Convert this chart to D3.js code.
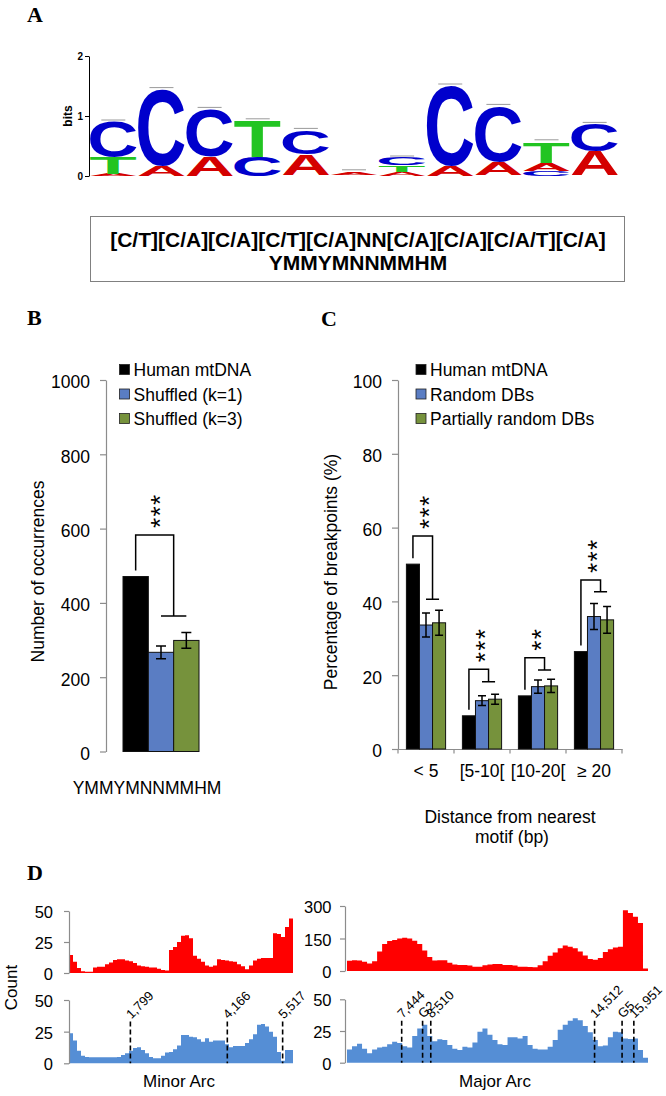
<!DOCTYPE html>
<html>
<head>
<meta charset="utf-8">
<script src="https://cdn.jsdelivr.net/npm/d3@7"></script>
<style>
body { margin: 0; background: #fff; }
svg { display: block; }
</style>
</head>
<body>
<svg id="fig" width="666" height="1096" font-family="Liberation Sans, Arial, sans-serif"></svg>
<script>
// ---------- data ----------
// A: sequence logo, bits per base in each column (bottom to top)
var logoCols = [
  [["A", 0.03], ["T", 0.28], ["C", 0.59]],
  [["A", 0.17], ["C", 1.27]],
  [["A", 0.33], ["C", 0.78]],
  [["C", 0.32], ["T", 0.60]],
  [["T", 0.02], ["A", 0.34], ["C", 0.40]],
  [["C", 0.02], ["A", 0.05]],
  [["A", 0.07], ["T", 0.11], ["C", 0.12]],
  [["A", 0.16], ["C", 1.34]],
  [["T", 0.02], ["A", 0.22], ["C", 0.92]],
  [["C", 0.09], ["A", 0.13], ["T", 0.35]],
  [["T", 0.01], ["A", 0.40], ["C", 0.45]]
];
var logoTicks = [0, 1, 2];
var baseColors = {A: "#d40000", C: "#0000cc", T: "#22c422", G: "#ffb300"};
var motifLines = ["[C/T][C/A][C/A][C/T][C/A]NN[C/A][C/A][C/A/T][C/A]", "YMMYMNNMMHM"];

// B: motif occurrences
var motifName = "YMMYMNNMMHM";
var seriesB = ["Human mtDNA", "Shuffled (k=1)", "Shuffled (k=3)"];
var occurrences = [471, 267, 299];
var occurrencesErr = [0, 17, 21];
var ticksB = [0, 200, 400, 600, 800, 1000];
var sigB = ["***"], sigTopB = [583], sigLowB = [365];

// C: distance of breakpoints from nearest motif
var distCats = ["< 5", "[5-10[", "[10-20[", "\u2265 20"];
var seriesC = ["Human mtDNA", "Random DBs", "Partially random DBs"];
var pctHuman = [50.1, 9.0, 14.4, 26.4];
var pctRandom = [33.6, 13.1, 16.9, 35.9];
var pctPartial = [34.2, 13.5, 17.1, 35.0];
var errRandom = [3.25, 1.3, 1.8, 3.5];
var errPartial = [3.4, 1.35, 1.8, 3.6];
var ticksC = [0, 20, 40, 60, 80, 100];
var sigC = ["***", "***", "**", "***"];
var sigTopC = [57.7, 21.6, 24.7, 45.8];
var sigLowC = [40.6, 18.2, 21.4, 42.6];

// D: counts along the minor and major arcs (equal bins)
var minorDomain = [300, 5770];
var majorDomain = [5440, 16470];
var minorRed = [14.5, 9, 4, 1.5, 1, 1, 4.5, 5, 5, 7, 8.5, 10.5, 11, 11, 10, 9.5, 8, 6, 5.5, 5,
  4.5, 4.5, 3.5, 2.5, 2, 18.5, 21, 25, 30, 30.5, 28, 14, 11.5, 9, 6, 5, 6, 11, 10.5, 10,
  9.5, 9, 7, 5.5, 3, 6, 10, 11.5, 12, 12, 12, 32, 31.5, 29, 37, 44];
var minorBlue = [23.7, 18, 10, 6, 5, 4.7, 4.7, 4.7, 4.7, 4.7, 4.7, 4.7, 5, 6.5, 8, 10, 12, 12.6, 10.5, 8,
  5, 4, 4, 6, 8.5, 9, 11, 14, 22.4, 22.4, 21, 20.5, 19, 17, 19.7, 17, 18, 18, 18, 15,
  12.6, 13.7, 13.7, 13.7, 16, 19, 23, 30.5, 31, 29, 25, 21, 9, 2, 10.5, 10.5];
var majorRed = [47.7, 50, 48, 43, 35, 45, 90, 125, 138, 143, 150, 153, 150, 140, 125, 95, 65, 48, 50, 50,
  38, 30, 28, 28, 25, 20, 20, 26, 30, 32, 32, 28, 28, 25, 20, 20, 18, 17, 26, 45,
  70, 85, 105, 118, 112, 105, 90, 72, 55, 52, 60, 88, 100, 108, 112, 280, 268, 250, 222, 12];
var majorBlue = [10.5, 13, 15, 11, 7.4, 10.5, 12, 12.6, 14.5, 16.6, 15.5, 13, 12, 21, 27, 30, 21, 17, 18.4, 18,
  14, 11, 10, 12.6, 12, 16, 24.5, 27, 22, 18, 14.5, 14, 20, 20, 19, 21, 14, 11, 10.5, 10.5,
  12.6, 18, 26, 30, 33, 35, 33.5, 29, 24, 18, 13, 13.5, 20, 24.5, 24, 19, 18.6, 19, 10, 4];
var minorMarkPos = [1799, 4166, 5517];
var minorMarkLabels = ["1,799", "4,166", "5,517"];
var majorMarkPos = [7444, 8210, 8510, 14512, 15520, 15951];
var majorMarkLabels = ["7,444", "G2", "8,510", "14,512", "G5", "15,951"];
var ticksSmall = [0, 25, 50];
var ticksBig = [0, 150, 300];

// ---------- setup ----------
var svg = d3.select("#fig");
var barColors = ["#000000", "#5a7dc3", "#76923c"];
var axisGrey = "#8c8c8c";
var font = "Liberation Sans, Arial, sans-serif";

function panelLetter(t, x, y) {
  svg.append("text").attr("x", x).attr("y", y)
    .attr("font-family", "Liberation Serif, Times New Roman, serif")
    .attr("font-weight", "bold").attr("font-size", 22).text(t);
}

function styleAxis(g, size) {
  g.attr("font-size", size).attr("font-family", font);
  g.select(".domain").attr("stroke", axisGrey).attr("stroke-width", 1.2);
  g.selectAll(".tick line").attr("stroke", axisGrey).attr("stroke-width", 1.2);
  g.selectAll(".tick text").attr("fill", "#000");
}

panelLetter("A", 27, 22);
panelLetter("B", 27, 325);
panelLetter("C", 321, 326);
panelLetter("D", 27, 880);

// ---------- A: logo ----------
var logoX = d3.scaleBand().domain(d3.range(logoCols.length)).range([90, 618]).paddingInner(0.03);
var logoY = d3.scaleLinear().domain([0, 2]).range([176, 56]);

var ctx = document.createElement("canvas").getContext("2d");
ctx.font = "bold 100px 'Liberation Sans'";
function ink(ch) {
  var m = ctx.measureText(ch);
  return {l: m.actualBoundingBoxLeft, r: m.actualBoundingBoxRight, a: m.actualBoundingBoxAscent, d: m.actualBoundingBoxDescent};
}

var logo = svg.append("g");
logoCols.forEach(function(col, i) {
  var x0 = logoX(i), w = logoX.bandwidth(), acc = 0;
  col.forEach(function(b) {
    var top = logoY(acc + b[1]), h = logoY(acc) - top;
    acc += b[1];
    if (h < 1.5) return;
    var m = ink(b[0]);
    var sx = w / (m.l + m.r), sy = h / (m.a + m.d);
    logo.append("text")
      .attr("transform", "translate(" + (x0 + m.l * sx) + "," + (top + m.a * sy) + ") scale(" + sx + "," + sy + ")")
      .attr("font-size", 100).attr("font-weight", "bold")
      .attr("font-family", "Liberation Sans")
      .attr("fill", baseColors[b[0]]).text(b[0]);
  });
  logo.append("line")
    .attr("x1", x0 + w / 2 - 12).attr("x2", x0 + w / 2 + 12)
    .attr("y1", logoY(acc) - 2).attr("y2", logoY(acc) - 2)
    .attr("stroke", "#9a9a9a").attr("stroke-width", 1);
});

var logoAxis = svg.append("g").attr("transform", "translate(89,0)")
  .call(d3.axisLeft(logoY).tickValues(logoTicks).tickSize(4).tickSizeOuter(0).tickPadding(2).tickFormat(d3.format("d")));
logoAxis.attr("font-size", 10).attr("font-weight", "bold").attr("font-family", font);
logoAxis.selectAll("path,line").attr("stroke", "#000");

svg.append("text").attr("transform", "translate(71.5,116) rotate(-90)")
  .attr("text-anchor", "middle").attr("font-size", 12).attr("font-weight", "bold").text("bits");

// motif box
svg.append("rect").attr("x", 90.5).attr("y", 216.5).attr("width", 534).attr("height", 65)
  .attr("fill", "none").attr("stroke", "#808080");
svg.selectAll(".motif").data(motifLines).enter().append("text")
  .attr("x", 358).attr("y", (d, i) => 247 + i * 23)
  .attr("text-anchor", "middle").attr("font-size", 21).attr("font-weight", "bold").text(d => d);

// ---------- helpers for B / C ----------
function legend(names, x, y) {
  var g = svg.append("g");
  names.forEach(function(n, i) {
    g.append("rect").attr("x", x).attr("y", y + i * 24.5 - 5).attr("width", 10).attr("height", 10)
      .attr("fill", barColors[i]).attr("stroke", "#222").attr("stroke-width", 0.8);
    g.append("text").attr("x", x + 14).attr("y", y + i * 24.5 + 6.5)
      .attr("font-size", 17.5).text(n);
  });
}

function bracket(xl, xr, xt0, xt1, yLeg, yTop, yLow, stars) {
  var p = d3.path();
  p.moveTo(xl, yLeg); p.lineTo(xl, yTop); p.lineTo(xr, yTop); p.lineTo(xr, yLow);
  p.moveTo(xt0, yLow); p.lineTo(xt1, yLow);
  svg.append("path").attr("d", p.toString()).attr("fill", "none")
    .attr("stroke", "#000").attr("stroke-width", 1.5);
  // the stars are one rotated text, read bottom to top
  svg.append("text")
    .attr("transform", "translate(" + ((xl + xr) / 2) + "," + (yTop - 7) + ") rotate(-90)")
    .attr("dy", "0.57em").attr("letter-spacing", 1.4)
    .attr("font-size", 26).text(stars);
}

function errBar(g, x, yHi, yLo, cap) {
  var p = d3.path();
  p.moveTo(x, yHi); p.lineTo(x, yLo);
  p.moveTo(x - cap, yHi); p.lineTo(x + cap, yHi);
  p.moveTo(x - cap, yLo); p.lineTo(x + cap, yLo);
  g.append("path").attr("d", p.toString()).attr("stroke", "#000").attr("stroke-width", 1.5).attr("fill", "none");
}

// ---------- B ----------
var yB = d3.scaleLinear().domain([0, 1000]).range([751.5, 380]);
var xB = d3.scaleBand().domain(seriesB).range([123, 199]);

var axB = svg.append("g").attr("transform", "translate(106,0)")
  .call(d3.axisLeft(yB).tickValues(ticksB).tickSize(6).tickSizeOuter(0).tickPadding(10).tickFormat(d3.format("d")));
styleAxis(axB, 17.5);
axB.selectAll(".tick text").attr("dy", "0.45em");

var gB = svg.append("g");
gB.selectAll("rect").data(occurrences).enter().append("rect")
  .attr("x", (d, i) => xB(seriesB[i]))
  .attr("y", d => yB(d))
  .attr("width", xB.bandwidth())
  .attr("height", d => yB(0) - yB(d))
  .attr("fill", (d, i) => barColors[i])
  .attr("stroke", "#111").attr("stroke-width", 1);
occurrences.forEach(function(v, i) {
  if (occurrencesErr[i] > 0)
    errBar(gB, xB(seriesB[i]) + xB.bandwidth() / 2, yB(v + occurrencesErr[i]), yB(v - occurrencesErr[i]), 5);
});

var bwB = xB.bandwidth();
bracket(xB(seriesB[0]) + bwB / 2, xB(seriesB[2]), xB(seriesB[1]) + bwB / 2, xB(seriesB[2]) + bwB / 2,
  yB(occurrences[0]) - 6, yB(sigTopB[0]), yB(sigLowB[0]), sigB[0]);

legend(seriesB, 119.5, 369.5);

svg.append("text").attr("transform", "translate(43.5,571.5) rotate(-90)")
  .attr("text-anchor", "middle").attr("font-size", 17.5).text("Number of occurrences");
svg.append("text").attr("x", 147).attr("y", 794).attr("text-anchor", "middle")
  .attr("font-size", 17.5).text(motifName);

// ---------- C ----------
var yC = d3.scaleLinear().domain([0, 100]).range([749, 380]);
var xC0 = d3.scaleBand().domain(distCats).range([398, 622]).paddingInner(0.3).paddingOuter(0.15);
var xC1 = d3.scaleBand().domain(seriesC).range([0, xC0.bandwidth()]);
var valuesC = [pctHuman, pctRandom, pctPartial];
var errsC = [null, errRandom, errPartial];

var axC = svg.append("g").attr("transform", "translate(398,0)")
  .call(d3.axisLeft(yC).tickValues(ticksC).tickSize(6).tickSizeOuter(0).tickPadding(10));
styleAxis(axC, 17.5);
axC.selectAll(".tick text").attr("dy", "0.45em");

var axCx = svg.append("g").attr("transform", "translate(0,749)")
  .call(d3.axisBottom(xC0).tickSize(0).tickPadding(15.6));
styleAxis(axCx, 17.5);
axCx.selectAll(".tick text").attr("dy", "0.71em");
var stepC = xC0.step();
svg.selectAll(".ctick").data(d3.range(distCats.length + 1)).enter().append("line")
  .attr("x1", d => xC0.range()[0] + d * stepC).attr("x2", d => xC0.range()[0] + d * stepC)
  .attr("y1", 749).attr("y2", 753.5).attr("stroke", axisGrey).attr("stroke-width", 1.2);

var gC = svg.append("g");
distCats.forEach(function(cat, c) {
  seriesC.forEach(function(s, k) {
    var v = valuesC[k][c];
    gC.append("rect").attr("x", xC0(cat) + xC1(s)).attr("y", yC(v))
      .attr("width", xC1.bandwidth()).attr("height", yC(0) - yC(v))
      .attr("fill", barColors[k]).attr("stroke", "#111").attr("stroke-width", 1);
  });
  seriesC.forEach(function(s, k) {
    if (!errsC[k]) return;
    var v = valuesC[k][c], e = errsC[k][c];
    errBar(gC, xC0(cat) + xC1(s) + xC1.bandwidth() / 2, yC(v + e), yC(v - e), 4);
  });
  var bw = xC1.bandwidth(), x0 = xC0(cat);
  bracket(x0 + xC1(seriesC[0]) + bw / 2, x0 + xC1(seriesC[2]),
    x0 + xC1(seriesC[1]) + bw / 2, x0 + xC1(seriesC[2]) + bw / 2,
    yC(pctHuman[c]) - 6, yC(sigTopC[c]), yC(sigLowC[c]), sigC[c]);
});

legend(seriesC, 416, 369.5);

svg.append("text").attr("transform", "translate(337,572) rotate(-90)")
  .attr("text-anchor", "middle").attr("font-size", 17.5).text("Percentage of breakpoints (%)");
svg.append("text").attr("x", 510).attr("y", 823).attr("text-anchor", "middle")
  .attr("font-size", 17.5).text("Distance from nearest");
svg.append("text").attr("x", 512).attr("y", 843).attr("text-anchor", "middle")
  .attr("font-size", 17.5).text("motif (bp)");

// ---------- D ----------
function profile(values, xs, ys, color) {
  var d = xs.domain(), step = (d[1] - d[0]) / values.length;
  var pts = values.map((v, i) => [d[0] + i * step, v]);
  pts.push([d[1], values[values.length - 1]]);
  var area = d3.area().curve(d3.curveStepAfter)
    .x(p => xs(p[0])).y0(ys(0)).y1(p => ys(p[1]));
  svg.append("path").datum(pts).attr("d", area).attr("fill", color);
}

function yAxisD(ys, x, ticks, pad) {
  var g = svg.append("g").attr("transform", "translate(" + x + ",0)")
    .call(d3.axisLeft(ys).tickValues(ticks).tickSize(5).tickSizeOuter(0).tickPadding(pad));
  styleAxis(g, 16.5);
  g.selectAll(".tick text").attr("dy", "0.4em");
}

function marks(pos, labels, xs, ys) {
  pos.forEach(function(p, i) {
    var x = xs(p);
    svg.append("line").attr("x1", x).attr("x2", x).attr("y1", ys(33)).attr("y2", ys(0))
      .attr("stroke", "#000").attr("stroke-width", 1.6).attr("stroke-dasharray", "5,3");
    svg.append("text").attr("transform", "translate(" + (x + 1) + "," + (ys(33) - 2) + ") rotate(-45)")
      .attr("font-size", 13).text(labels[i]);
  });
}

var xMinor = d3.scaleLinear().domain(minorDomain).range([69, 293]);
var xMajor = d3.scaleLinear().domain(majorDomain).range([347, 648]);
var yMinorTop = d3.scaleLinear().domain([0, 50]).range([973, 911]);
var yMinorBot = d3.scaleLinear().domain([0, 50]).range([1063.3, 1000]);
var yMajorTop = d3.scaleLinear().domain([0, 300]).range([971, 906]);
var yMajorBot = d3.scaleLinear().domain([0, 50]).range([1062.7, 999.3]);

profile(minorRed, xMinor, yMinorTop, "#ff0000");
profile(minorBlue, xMinor, yMinorBot, "#558ed5");
profile(majorRed, xMajor, yMajorTop, "#ff0000");
profile(majorBlue, xMajor, yMajorBot, "#558ed5");

yAxisD(yMinorTop, 69, ticksSmall, 11);
yAxisD(yMinorBot, 69, ticksSmall, 11);
yAxisD(yMajorTop, 345, ticksBig, 8.5);
yAxisD(yMajorBot, 345, ticksSmall, 8.5);

marks(minorMarkPos, minorMarkLabels, xMinor, yMinorBot);
marks(majorMarkPos, majorMarkLabels, xMajor, yMajorBot);

svg.append("text").attr("transform", "translate(16.7,987.5) rotate(-90)")
  .attr("text-anchor", "middle").attr("font-size", 17).text("Count");
svg.append("text").attr("x", 179).attr("y", 1086.5).attr("text-anchor", "middle")
  .attr("font-size", 17).text("Minor Arc");
svg.append("text").attr("x", 495).attr("y", 1086.5).attr("text-anchor", "middle")
  .attr("font-size", 17).text("Major Arc");
</script>
</body>
</html>
